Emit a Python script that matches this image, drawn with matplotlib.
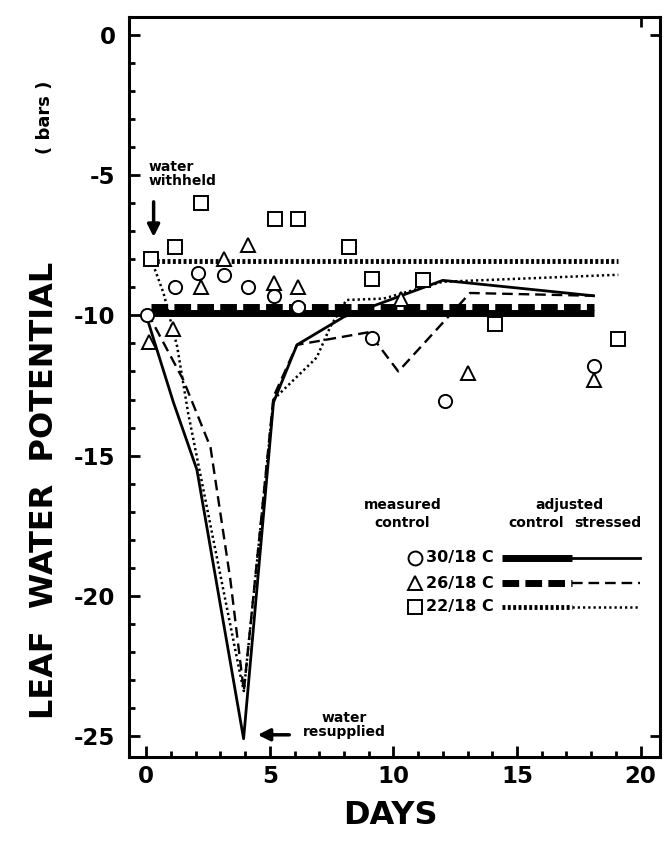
import matplotlib
matplotlib.use("Agg")
import matplotlib.pyplot as plt

plt.rcParams["font.family"] = "DejaVu Sans"
plt.rcParams["font.weight"] = "bold"
plt.rcParams["axes.unicode_minus"] = False

# measured control (markers)
days_30 = [0.03, 1.15, 2.1, 3.15, 4.1, 5.15, 6.15, 9.15, 12.1, 18.1]
meas_30 = [-10.0, -9.0, -8.5, -8.55, -9.0, -9.3, -9.7, -10.8, -13.05, -11.8]
days_26 = [0.1, 1.1, 2.2, 3.15, 4.1, 5.15, 6.15, 10.3, 13.0, 18.1]
meas_26 = [-10.95, -10.5, -9.0, -8.0, -7.5, -8.85, -9.0, -9.4, -12.05, -12.3]
days_22 = [0.2, 1.15, 2.2, 5.2, 6.15, 8.2, 9.15, 11.2, 14.1, 19.1]
meas_22 = [-8.0, -7.55, -6.0, -6.55, -6.55, -7.55, -8.7, -8.75, -10.3, -10.85]

# adjusted control (flat)
ctrl_days_30 = [0.2, 18.1]
ctrl_30 = [-9.9, -9.9]
ctrl_days_26 = [0.2, 18.1]
ctrl_26 = [-9.7, -9.7]
ctrl_days_22 = [0.2, 19.1]
ctrl_22 = [-8.05, -8.05]

# stressed
str_days_30 = [0.0, 1.1, 2.05, 3.94, 5.15, 6.1, 8.0, 12.0, 18.1]
str_30 = [-10.0, -13.1, -15.5, -25.1, -13.1, -11.05, -10.05, -8.75, -9.3]
str_days_26 = [0.05, 1.5, 2.6, 3.4, 3.95, 5.15, 6.1, 9.0, 10.2, 13.1, 18.1]
str_26 = [-9.9, -12.3, -14.7, -19.4, -23.4, -12.9, -11.05, -10.6, -12.0, -9.2, -9.3]
str_days_22 = [0.2, 0.7, 1.25, 1.7, 3.8, 3.95, 5.15, 6.9, 7.45, 8.1, 9.6, 12.0, 19.1]
str_22 = [-8.0, -9.2, -11.1, -13.5, -22.8, -23.4, -13.0, -11.5, -10.4, -9.45, -9.4, -8.8, -8.55]

legend_labels = ["30/18 C", "26/18 C", "22/18 C"]

fig = plt.figure(figsize=(6.67, 8.42), dpi=100)
ax = fig.add_axes([0.194, 0.101, 0.796, 0.879])

thick_solid = dict(color="k", lw=5, solid_capstyle="butt")
thick_dash = dict(color="k", lw=5, linestyle=(0, (2.4, 0.9)), dash_capstyle="butt")
thick_dot = dict(color="k", lw=3.5, linestyle=(0, (0.6, 0.5)), dash_capstyle="butt")
thin_solid = dict(color="k", lw=2.0)
thin_dash = dict(color="k", lw=1.7, linestyle=(0, (4.5, 2.5)))
thin_dot = dict(color="k", lw=1.8, linestyle=(0, (0.9, 1.2)))

ax.plot(ctrl_days_22, ctrl_22, **thick_dot)
ax.plot(ctrl_days_30, ctrl_30, **thick_solid)
ax.plot(ctrl_days_26, ctrl_26, **thick_dash)

ax.plot(str_days_30, str_30, **thin_solid)
ax.plot(str_days_26, str_26, **thin_dash)
ax.plot(str_days_22, str_22, **thin_dot)

mk = dict(linestyle="none", mfc="white", mec="k", mew=1.4, zorder=3)
ax.plot(days_30, meas_30, marker="o", ms=9.5, **mk)
ax.plot(days_26, meas_26, marker="^", ms=10.5, **mk)
ax.plot(days_22, meas_22, marker="s", ms=9.5, **mk)

ax.set_xlim(-0.68, 20.8)
ax.set_ylim(-25.75, 0.65)
ax.set_xticks([0, 5, 10, 15, 20])
ax.set_xticks(range(0, 21), minor=True)
ax.set_yticks([0, -5, -10, -15, -20, -25])
ax.set_yticks(range(-25, 1), minor=True)
ax.tick_params(which="both", direction="in", width=2, labelsize=16.5)
ax.tick_params(which="major", length=8)
ax.tick_params(which="minor", length=4)
ax.tick_params(axis="x", pad=6)
ax.tick_params(axis="y", pad=10)
for lab in ax.get_xticklabels() + ax.get_yticklabels():
    lab.set_fontweight("bold")
for s in ax.spines.values():
    s.set_linewidth(2.2)

top = ax.secondary_xaxis("top")
top.set_xticks([20])
top.set_xticklabels([])
top.tick_params(direction="in", length=7, width=2)
right = ax.secondary_yaxis("right")
right.set_yticks([0, -25])
right.set_yticklabels([])
right.tick_params(direction="in", length=7, width=2)

# annotations
ax.text(0.08, -4.95, "water\nwithheld", ha="left", va="center", fontsize=10,
        fontweight="bold", linespacing=1.0)
ax.annotate("", xy=(0.3, -7.3), xytext=(0.3, -5.85),
            arrowprops=dict(arrowstyle="-|>", color="k", lw=2.5, mutation_scale=18))
ax.text(8.0, -24.6, "water\nresupplied", ha="center", va="center", fontsize=10,
        fontweight="bold", linespacing=1.0)
ax.annotate("", xy=(4.4, -24.96), xytext=(5.9, -24.96),
            arrowprops=dict(arrowstyle="-|>", color="k", lw=2.5, mutation_scale=18))

# hand-built legend
tr = ax.transAxes
ax.text(0.514, 0.340, "measured", transform=tr, ha="center", va="center", fontsize=10, fontweight="bold")
ax.text(0.514, 0.316, "control", transform=tr, ha="center", va="center", fontsize=10, fontweight="bold")
ax.text(0.828, 0.340, "adjusted", transform=tr, ha="center", va="center", fontsize=10, fontweight="bold")
ax.text(0.766, 0.316, "control", transform=tr, ha="center", va="center", fontsize=10, fontweight="bold")
ax.text(0.902, 0.316, "stressed", transform=tr, ha="center", va="center", fontsize=10, fontweight="bold")

rows_y = [0.269, 0.235, 0.203]
markers = ["o", "^", "s"]
thick_styles = [thick_solid, thick_dash, thick_dot]
thin_styles = [thin_solid, thin_dash, thin_dot]
for yy, lab, m, tk, tn in zip(rows_y, legend_labels, markers, thick_styles, thin_styles):
    ax.plot([0.538], [yy], marker=m, ms=10, transform=tr, clip_on=False, **mk)
    ax.text(0.623, yy, lab, transform=tr, ha="center", va="center", fontsize=11.5, fontweight="bold")
    ax.plot([0.702, 0.834], [yy, yy], transform=tr, **tk)
    ax.plot([0.834, 0.962], [yy, yy], transform=tr, **tn)

fig.text(0.067, 0.418, "LEAF  WATER  POTENTIAL", rotation=90, ha="center", va="center",
         fontsize=23, fontweight="bold")
fig.text(0.067, 0.861, "( bars )", rotation=90, ha="center", va="center",
         fontsize=13, fontweight="bold")
fig.text(0.585, 0.032, "DAYS", ha="center", va="center", fontsize=23, fontweight="bold")

fig.savefig("out.png", dpi=100)
